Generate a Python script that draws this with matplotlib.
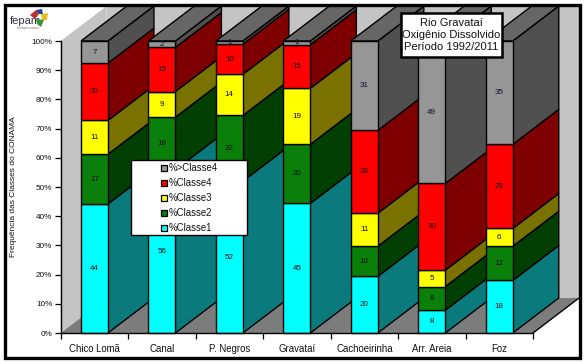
import matplotlib
matplotlib.use("Agg")
import matplotlib.pyplot as plt
from matplotlib.patches import Polygon, Rectangle

plt.rcParams['font.family'] = ['Liberation Sans', 'DejaVu Sans']
plt.rcParams['hatch.linewidth'] = 0.6
plt.rcParams['hatch.color'] = '#eeeeee'

categories = ['Chico Lomã', 'Canal', 'P. Negros', 'Gravataí', 'Cachoeirinha', 'Arr. Areia', 'Foz']
classe1 = [44.2, 55.9, 52.0, 44.4, 19.4, 7.8, 18.0]
classe2 = [17.0, 18.0, 22.5, 20.2, 10.3, 8.1, 11.7]
classe3 = [11.6, 8.8, 14.1, 19.2, 11.3, 5.6, 6.1]
classe4 = [19.6, 15.1, 10.3, 14.9, 28.4, 29.7, 28.8]
classe5 = [7.6, 2.2, 1.1, 1.3, 30.6, 48.8, 35.4]
labels1 = [44, 56, 52, 45, 20, 8, 18]
labels2 = [17, 18, 22, 20, 10, 8, 12]
labels3 = [11, 9, 14, 19, 11, 5, 6]
labels4 = [20, 15, 10, 15, 28, 30, 29]
labels5 = [7, 2, 1, 1, 31, 49, 35]
series = [classe1, classe2, classe3, classe4, classe5]
series_labels = [labels1, labels2, labels3, labels4, labels5]
names = ['%Classe1', '%Classe2', '%Classe3', '%Classe4', '%>Classe4']
front = ['#00ffff', '#0a800a', '#ffff00', '#ff0000', '#969696']
side = ['#0a7a7c', '#023f02', '#7a7200', '#7e0000', '#505050']
top_color = '#666666'
yticks = list(range(0, 101, 10))

W, H = 585, 363
fig = plt.figure(figsize=(W / 100, H / 100), dpi=100, facecolor='white')
L, R, T, B = 60.7, 533.0, 41.0, 333.0
ax = fig.add_axes([L / W, 1 - B / H, (R - L) / W, (B - T) / H])
ax.set_xlim(0, len(categories))
ax.set_ylim(0, 100)
ax.patch.set_visible(False)

# perspective offset, in data units
dx = 46.0 / ((R - L) / len(categories))
dy = 35.0 / ((B - T) / 100)
n = len(categories)
bw = 0.40

def poly(pts, fc, ec='none', z=1, lw=0.0, hatch=None):
    ax.add_patch(Polygon(pts, closed=True, facecolor=fc, edgecolor=ec, linewidth=lw,
                         zorder=z, clip_on=False, hatch=hatch))

# walls and floor
poly([(0, 0), (dx, dy), (dx, 100 + dy), (0, 100)], '#c4c4c4', z=1, hatch='.........')
poly([(dx, dy), (n + dx, dy), (n + dx, 100 + dy), (dx, 100 + dy)], '#c4c4c4', z=1, hatch='.........')
poly([(0, 0), (n, 0), (n + dx, dy), (dx, dy)], '#7c7c7c', z=1.5)
ax.plot([n, n + dx], [0, dy], color='black', lw=1.0, zorder=1.6, clip_on=False)

# stacked 3-D columns, left to right so each front face covers the previous side
for i in range(n):
    base = 0.0
    z = 2 + i
    x0 = i + 0.5 - bw / 2
    x1 = i + 0.5 + bw / 2
    for s, vals in enumerate(series):
        v = vals[i]
        top = base + v
        poly([(x1, base), (x1 + dx, base + dy), (x1 + dx, top + dy), (x1, top)], side[s], 'black', z, 1.0)
        ax.bar(i + 0.5, v, bw, bottom=base, color=front[s], edgecolor='black', linewidth=1.0, zorder=z + 0.2, clip_on=False)
        ax.text(i + 0.5, base + v / 2, str(series_labels[s][i]), ha='center', va='center', fontsize=5.8,
                color='#101010' if s != 4 else '#101030', zorder=z + 0.3)
        base = top
    poly([(x0, base), (x1, base), (x1 + dx, base + dy), (x0 + dx, base + dy)], top_color, 'black', z + 0.1, 1.0)

# axes
for sp in ('top', 'right'):
    ax.spines[sp].set_visible(False)
for sp in ('left', 'bottom'):
    ax.spines[sp].set_linewidth(1.0)
    ax.spines[sp].set_zorder(50)
ax.set_yticks(yticks)
ax.set_yticklabels([f'{t}%' for t in yticks], fontsize=5.9, color='#111111')
ax.tick_params(axis='y', length=4, width=0.9, pad=2)
ax.set_xticks(range(n + 1))
ax.set_xticklabels([])
ax.tick_params(axis='x', which='major', length=4.5, width=0.9)
ax.set_xticks([i + 0.5 for i in range(n)], minor=True)
ax.set_xticklabels(categories, minor=True, fontsize=6.9, color='#111111')
ax.tick_params(axis='x', which='minor', length=0, pad=8)
fig.text(14 / W, 1 - 187 / H, 'Frequência das Classes do CONAMA', rotation=90, ha='center', va='center', fontsize=6, color='#111111')

# overlay in figure pixels
ov = fig.add_axes([0, 0, 1, 1], zorder=100)
ov.set_xlim(0, W)
ov.set_ylim(H, 0)
ov.axis('off')
ov.patch.set_visible(False)
ov.add_patch(Rectangle((4.5, 4.5), 575, 353.5, fill=False, edgecolor='black', linewidth=2.4, zorder=20))

# legend
ov.add_patch(Rectangle((130.5, 159.5), 116, 75, facecolor='white', edgecolor='black', linewidth=1.0, zorder=5))
for k, name in enumerate(names[::-1]):
    yy = 168 + k * 15
    ov.add_patch(Rectangle((160.5, yy - 3), 6, 6, facecolor=front[::-1][k], edgecolor='black', linewidth=0.9, zorder=6))
    ov.text(169, yy, name, ha='left', va='center', fontsize=6.9, color='#111111', zorder=6)

# title box
ov.add_patch(Rectangle((401, 12.5), 100.5, 44.5, facecolor='white', edgecolor='black', linewidth=1.8, zorder=5))
for line, yy in zip(['Rio Gravataí', 'Oxigênio Dissolvido', 'Período 1992/2011'], [23, 35, 46.5]):
    ov.text(451.5, yy, line, ha='center', va='center', fontsize=8, color='#111111', zorder=6)

# logo
ov.text(10, 21, 'fepam', ha='left', va='center', fontsize=8, color='#333344', zorder=6)
ov.text(17, 28, 'fundação estadual', ha='left', va='center', fontsize=2, color='#777777', zorder=6)
ov.add_patch(Polygon([(30, 15), (36, 10), (39, 14), (35, 19)], facecolor='#c03030', zorder=6))
ov.add_patch(Polygon([(36, 10), (42, 9), (43, 14), (39, 14)], facecolor='#2040a0', zorder=6))
ov.add_patch(Polygon([(41, 14), (48, 13), (47, 20), (42, 20)], facecolor='#e0c020', zorder=6))
ov.add_patch(Polygon([(36, 19), (44, 20), (41, 27), (37, 24)], facecolor='#409040', zorder=6))

fig.savefig('out.png', dpi=100, facecolor='white')
